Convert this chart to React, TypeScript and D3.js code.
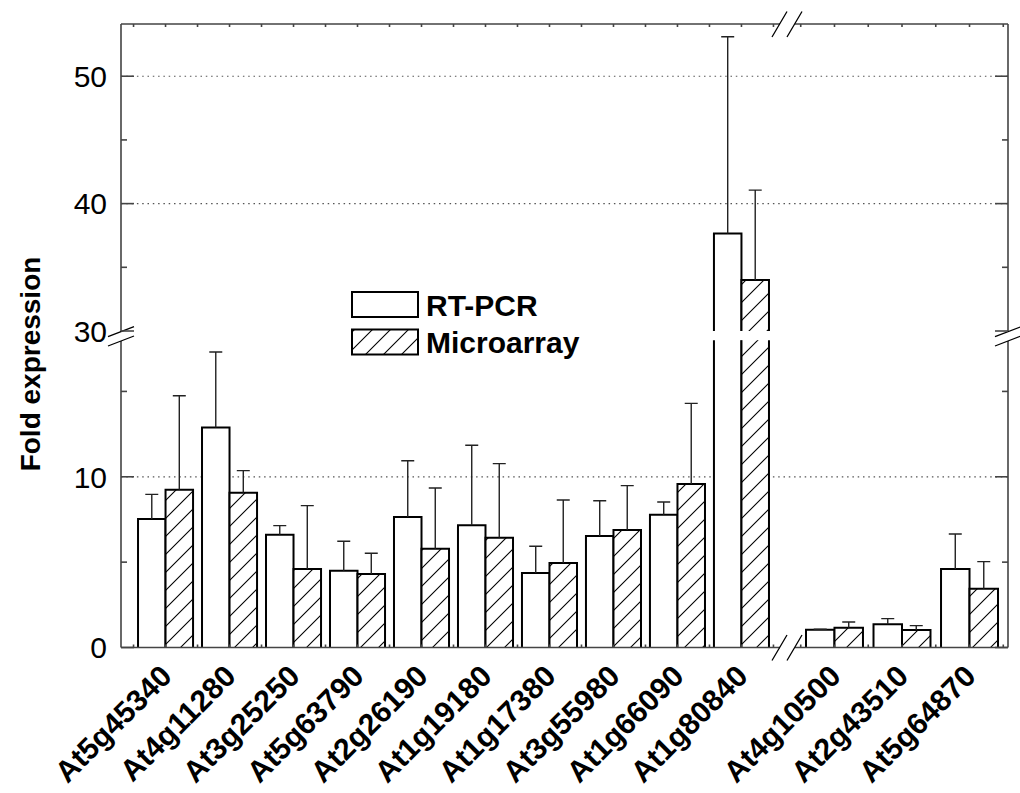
import { useEffect, useRef } from "react";
import * as d3 from "d3";

const leftGenes = [
  "At5g45340", "At4g11280", "At3g25250", "At5g63790", "At2g26190",
  "At1g19180", "At1g17380", "At3g55980", "At1g66090", "At1g80840",
];
const rightGenes = ["At4g10500", "At2g43510", "At5g64870"];
const seriesNames = ["RT-PCR", "Microarray"];

// fold expression and upper error (SD) per gene, in gene order (left then right)
const rtPcr = [7.53, 12.88, 6.61, 4.5, 7.65, 7.16, 4.36, 6.53, 7.78, 37.66, 1.04, 1.36, 4.6];
const rtPcrSd = [1.44, 4.43, 0.53, 1.72, 3.29, 4.69, 1.57, 2.07, 0.74, 15.44, 0.03, 0.33, 2.05];
const microarray = [9.24, 9.07, 4.6, 4.31, 5.79, 6.43, 4.95, 6.88, 9.58, 34.0, 1.16, 1.03, 3.44];
const microarraySd = [5.51, 1.29, 3.71, 1.21, 3.55, 4.34, 3.69, 2.6, 4.72, 7.06, 0.33, 0.25, 1.59];

const lowerDomain = [0, 18];
const upperDomain = [30, 54.1];
const lowerMajor = [0, 10];
const lowerMinor = [5, 15];
const upperMajor = [30, 40, 50];
const upperMinor = [35, 45];
const gridValues = [10, 40, 50];

export default function App() {
  const svgRef = useRef<SVGSVGElement>(null);
  const width = 1020;
  const height = 793;

  useEffect(() => {
    const svg = d3.select(svgRef.current);
    svg.selectAll("*").remove();

    const left = 121;
    const right = 1008;
    const top = 24;
    const bottom = 647.5;
    const breakY0 = 331.5; // bottom of upper panel
    const breakY1 = 341; // top of lower panel
    const breakX0 = 780;
    const breakX1 = 795;
    const font = "Liberation Sans, Arial, sans-serif";
    const axisColor = "#444";

    const yLow = d3.scaleLinear().domain(lowerDomain).range([bottom, 340.2]);
    const yHigh = d3.scaleLinear().domain(upperDomain).range([331, top]);
    const yv = (v: number) => (v <= lowerDomain[1] ? yLow(v) : yHigh(v));

    const xLeft = d3.scaleBand<string>().domain(leftGenes).range([left, 786])
      .paddingInner(0.14).paddingOuter(0.266);
    const xRight = d3.scaleBand<string>().domain(rightGenes).range([796, right])
      .paddingInner(0.156).paddingOuter(0.148);

    const defs = svg.append("defs");
    const pat = defs.append("pattern").attr("id", "hatch")
      .attr("patternUnits", "userSpaceOnUse").attr("width", 18).attr("height", 18);
    pat.append("rect").attr("width", 18).attr("height", 18).attr("fill", "#fff");
    pat.append("path")
      .attr("d", "M0,18 L18,0 M-4.5,4.5 L4.5,-4.5 M13.5,22.5 L22.5,13.5")
      .attr("stroke", "#000").attr("stroke-width", 1.1);

    // grid lines
    svg.append("g").selectAll("line").data(gridValues).join("line")
      .attr("x1", left).attr("x2", right)
      .attr("y1", (d) => yv(d)).attr("y2", (d) => yv(d))
      .attr("stroke", "#555").attr("stroke-width", 1.2)
      .attr("stroke-dasharray", "1.5,3.8");

    const genes = [
      ...leftGenes.map((g) => ({ gene: g, scale: xLeft })),
      ...rightGenes.map((g) => ({ gene: g, scale: xRight })),
    ];
    const values = [rtPcr, microarray];
    const sds = [rtPcrSd, microarraySd];

    const bars = svg.append("g");
    const errs = svg.append("g");
    genes.forEach((g, i) => {
      const bw = g.scale.bandwidth() / 2;
      [0, 1].forEach((s) => {
        const v = values[s][i];
        const x = (g.scale(g.gene) ?? 0) + s * bw;
        const fill = s === 0 ? "#fff" : "url(#hatch)";
        if (v <= lowerDomain[1]) {
          bars.append("rect").attr("x", x).attr("y", yLow(v)).attr("width", bw)
            .attr("height", yLow(0) - yLow(v)).attr("fill", fill);
          bars.append("path")
            .attr("d", `M${x},${bottom}V${yLow(v)}H${x + bw}V${bottom}`)
            .attr("fill", "none").attr("stroke", "#000").attr("stroke-width", 2);
        } else {
          const yTopLow = yLow(lowerDomain[1]);
          bars.append("rect").attr("x", x).attr("y", yTopLow).attr("width", bw)
            .attr("height", bottom - yTopLow).attr("fill", fill);
          bars.append("rect").attr("x", x).attr("y", yHigh(v)).attr("width", bw)
            .attr("height", yHigh(30) - yHigh(v)).attr("fill", fill);
          bars.append("path")
            .attr("d", `M${x},${bottom}V${yTopLow}M${x + bw},${yTopLow}V${bottom}` +
              `M${x},${yHigh(30)}V${yHigh(v)}H${x + bw}V${yHigh(30)}`)
            .attr("fill", "none").attr("stroke", "#000").attr("stroke-width", 2);
        }
        const cx = x + bw / 2;
        const ye = yv(v + sds[s][i]);
        errs.append("path")
          .attr("d", `M${cx},${yv(v)}V${ye}M${cx - 6.5},${ye}H${cx + 6.5}`)
          .attr("fill", "none").attr("stroke", "#222").attr("stroke-width", 1.4);
      });
    });

    // frame with breaks
    const ax = svg.append("g").attr("stroke", axisColor).attr("stroke-width", 1.6).attr("fill", "none");
    [left, right].forEach((x) => {
      ax.append("path").attr("d", `M${x},${top}V${breakY0}M${x},${breakY1}V${bottom}`);
      ax.append("path").attr("stroke", "#000").attr("stroke-width", 1.3)
        .attr("d", `M${x - 13},${336.7}L${x + 13},${326.7}M${x - 13},${346}L${x + 13},${336}`);
    });
    [top, bottom].forEach((y) => {
      ax.append("path").attr("d", `M${left},${y}H${breakX0}M${breakX1},${y}H${right}`);
      ax.append("path").attr("stroke", "#000").attr("stroke-width", 1.3)
        .attr("d", `M${772},${y + 13}L${787},${y - 12.5}M${787},${y + 13}L${802},${y - 12.5}`);
    });

    // y ticks (inward on both sides)
    const yTicks = [
      ...lowerMajor.map((v) => ({ y: yLow(v), len: 13 })),
      ...lowerMinor.map((v) => ({ y: yLow(v), len: 6 })),
      ...upperMajor.map((v) => ({ y: yHigh(v), len: 13 })),
      ...upperMinor.map((v) => ({ y: yHigh(v), len: 6 })),
    ];
    yTicks.forEach((t) => {
      ax.append("line").attr("x1", left).attr("x2", left + t.len).attr("y1", t.y).attr("y2", t.y);
      ax.append("line").attr("x1", right).attr("x2", right - t.len).attr("y1", t.y).attr("y2", t.y);
    });

    // x ticks at group centres and group boundaries
    const xTicks: number[] = [];
    [xLeft, xRight].forEach((sc) => {
      const gap = sc.step() * sc.paddingInner();
      sc.domain().forEach((g) => {
        const x0 = sc(g) ?? 0;
        xTicks.push(x0 - gap / 2, x0 + sc.bandwidth() / 2);
      });
      const last = sc.domain()[sc.domain().length - 1];
      xTicks.push((sc(last) ?? 0) + sc.bandwidth() + gap / 2);
    });
    xTicks.forEach((x) => {
      ax.append("line").attr("x1", x).attr("x2", x).attr("y1", top).attr("y2", top + 3);
      ax.append("line").attr("x1", x).attr("x2", x).attr("y1", bottom).attr("y2", bottom - 3);
    });

    // y tick labels
    const labels = [
      ...lowerMajor.map((v) => ({ v, y: yLow(v) })),
      ...upperMajor.map((v) => ({ v, y: yHigh(v) })),
    ];
    svg.append("g").selectAll("text").data(labels).join("text")
      .attr("x", 107).attr("y", (d) => d.y).attr("dy", "0.36em")
      .attr("text-anchor", "end").attr("font-family", font).attr("font-size", 30)
      .attr("fill", "#000").text((d) => d.v);

    // x tick labels
    svg.append("g").selectAll("text").data(genes).join("text")
      .attr("transform", (d) =>
        `translate(${(d.scale(d.gene) ?? 0) + d.scale.bandwidth() / 2 + 8},678) rotate(-45)`)
      .attr("text-anchor", "end").attr("font-family", font).attr("font-size", 30)
      .attr("font-weight", "bold").attr("fill", "#000").text((d) => d.gene);

    // y axis title
    svg.append("text")
      .attr("transform", "translate(40,364) rotate(-90)")
      .attr("text-anchor", "middle").attr("font-family", font).attr("font-size", 28)
      .attr("font-weight", "bold").attr("fill", "#000").text("Fold expression");

    // legend
    const legend = svg.append("g");
    seriesNames.forEach((name, i) => {
      const y = 292 + i * 37.5;
      legend.append("rect").attr("x", 352).attr("y", y).attr("width", 66).attr("height", 25)
        .attr("fill", i === 0 ? "#fff" : "url(#hatch)")
        .attr("stroke", "#000").attr("stroke-width", 2);
      legend.append("text").attr("x", 426).attr("y", y + 23.5)
        .attr("font-family", font).attr("font-size", 30).attr("font-weight", "bold")
        .attr("fill", "#000").text(name);
    });
  }, []);

  return (
    <svg
      ref={svgRef}
      width={width}
      height={height}
      viewBox={`0 0 ${width} ${height}`}
      style={{ position: "absolute", left: 0, top: 0, background: "#fff" }}
    />
  );
}
